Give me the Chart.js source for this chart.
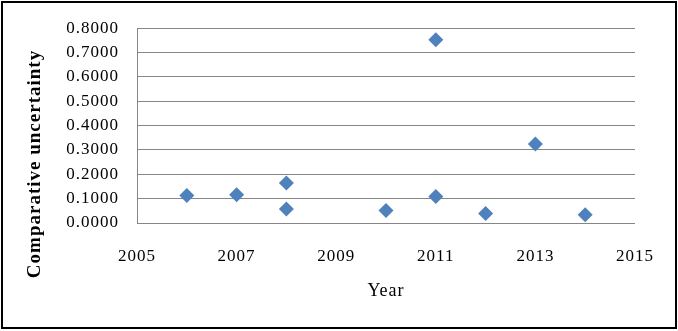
<!DOCTYPE html>
<html>
<head>
<meta charset="utf-8">
<script src="https://cdn.jsdelivr.net/npm/chart.js@4/dist/chart.umd.min.js"></script>
<style>
  html, body { margin: 0; padding: 0; background: #fff; }
  #wrap { position: relative; width: 678px; height: 331px; }
  #frame { position: absolute; left: 1px; top: 1px; width: 676px; height: 328px; border: 2px solid #000; box-sizing: border-box; pointer-events: none; }
  canvas { position: absolute; left: 0; top: 0; }
</style>
</head>
<body>
<div id="wrap">
  <canvas id="chart" width="678" height="331"></canvas>
  <div id="frame"></div>
</div>
<script>
const years = [2006, 2007, 2008, 2008, 2010, 2011, 2011, 2012, 2013, 2014];
const uncertainty = [0.113, 0.116, 0.164, 0.058, 0.051, 0.109, 0.753, 0.039, 0.324, 0.034];
const xTicks = [2005, 2007, 2009, 2011, 2013, 2015];
const yTicks = [0, 0.1, 0.2, 0.3, 0.4, 0.5, 0.6, 0.7, 0.8];

const SERIF = '"Liberation Serif", "Times New Roman", serif';

// canvas letter spacing to mimic the wide Excel text
const spacing = {
  id: "spacing",
  beforeDraw(chart) { chart.ctx.letterSpacing = "1px"; }
};

// y title is centred on the whole chart, not on the plot area
const yTitle = {
  id: "yTitle",
  afterDraw(chart) {
    const ctx = chart.ctx;
    ctx.save();
    ctx.letterSpacing = "1px";
    ctx.font = "bold 19px " + SERIF;
    ctx.fillStyle = "#000";
    ctx.textAlign = "center";
    ctx.textBaseline = "middle";
    ctx.translate(35, 164);
    ctx.rotate(-Math.PI / 2);
    ctx.fillText("Comparative uncertainty", 0, 0);
    ctx.restore();
  }
};

new Chart(document.getElementById("chart"), {
  type: "scatter",
  data: {
    datasets: [{
      data: years.map((y, i) => ({ x: y, y: uncertainty[i] })),
      pointStyle: "rectRot",
      pointRadius: 7.5,
      pointHoverRadius: 7.5,
      backgroundColor: "#4F81BD",
      borderColor: "#4F81BD",
      borderWidth: 0
    }]
  },
  options: {
    responsive: false,
    animation: false,
    layout: { padding: { top: 25, right: 43, bottom: 0, left: 0 } },
    plugins: { legend: { display: false }, tooltip: { enabled: false } },
    scales: {
      x: {
        type: "linear",
        min: 2005, max: 2015,
        afterBuildTicks: s => { s.ticks = xTicks.map(v => ({ value: v })); },
        afterFit: s => { s.height = 108; },
        grid: { display: false, drawTicks: false },
        border: { display: false },
        ticks: { color: "#000", font: { family: SERIF, size: 17 }, padding: 23, maxRotation: 0, callback: v => String(v) },
        title: { display: true, text: "Year", color: "#000", font: { family: SERIF, size: 18 }, padding: { top: 0, bottom: 29 } }
      },
      y: {
        min: 0, max: 0.8,
        afterBuildTicks: s => { s.ticks = yTicks.map(v => ({ value: v })); },
        afterFit: s => { s.width = 137; },
        grid: { color: "#868686", drawTicks: false },
        border: { display: true, color: "#868686" },
        ticks: { color: "#000", font: { family: SERIF, size: 17 }, padding: 18, callback: v => v.toFixed(4) }
      }
    }
  },
  plugins: [spacing, yTitle]
});
</script>
</body>
</html>
